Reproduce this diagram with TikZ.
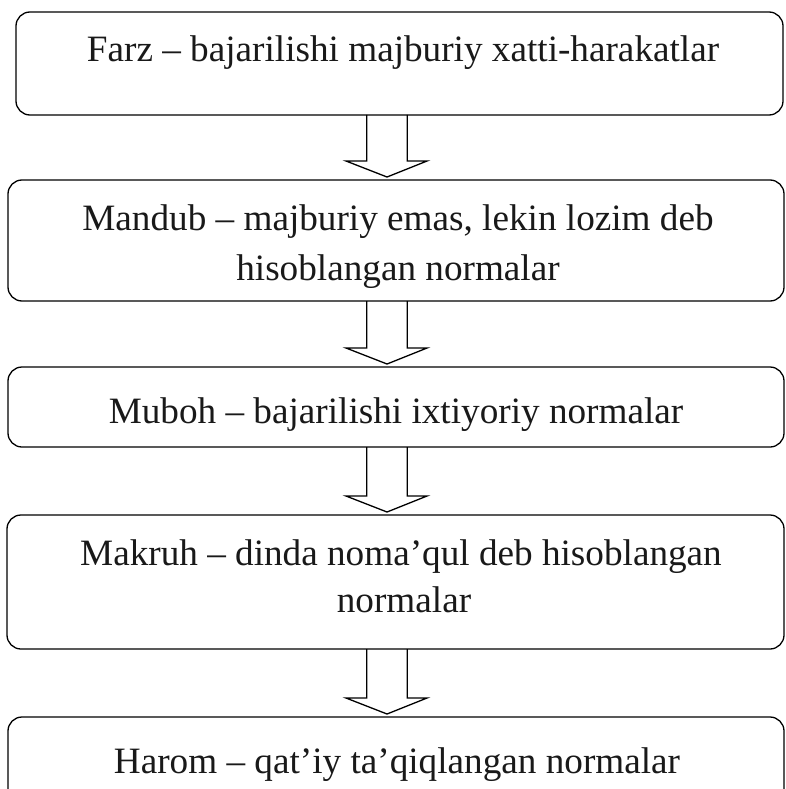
\documentclass[tikz,border=0pt]{standalone}
\usepackage{fontspec}
\setmainfont{Liberation Serif}
\usetikzlibrary{calc}
\tikzset{
  box/.style={draw, line width=1.3pt, rounded corners=14pt, inner sep=0pt, outer sep=0pt},
  label/.style={anchor=base, inner sep=0pt, font=\fontsize{37.2}{41}\selectfont, text=black!90},
  arrowline/.style={draw, line width=1.3pt, line join=miter}
}
\newcommand\blockarrow[2]{%
  \draw[arrowline] ($(#1.south -| ax)+(-20.3,0)$) -- ($(#2.north -| ax)+(-20.3,19)$)
    -- ($(#2.north -| ax)+(-41,19)$) -- ($(#2.north -| ax)+(0,3)$)
    -- ($(#2.north -| ax)+(40,19)$) -- ($(#2.north -| ax)+(20.3,19)$)
    -- ($(#1.south -| ax)+(20.3,0)$);}
\begin{document}
\begin{tikzpicture}[x=1pt,y=1pt]
\useasboundingbox (0,0) rectangle (785,-789);
\clip (0,0) rectangle (785,-789);
\fill[white] (0,0) rectangle (785,-789);
\coordinate (ax) at (387,0);
\node[box, minimum width=767pt, minimum height=103pt] (b1) at (399.5,-63.5) {};
\node[box, minimum width=776pt, minimum height=121pt] (b2) at (396,-240.5) {};
\node[box, minimum width=776pt, minimum height=80pt] (b3) at (396,-407) {};
\node[box, minimum width=777pt, minimum height=134pt] (b4) at (395.5,-582) {};
\node[box, minimum width=776pt, minimum height=120pt] (b5) at (396,-777) {};
\node[label] (t1) at (403,-62) {Farz – bajarilishi majburiy xatti-harakatlar};
\node[label] (t2a) at (398,-230) {Mandub – majburiy emas, lekin lozim deb};
\node[label] (t2b) at (398,-280) {hisoblangan normalar};
\node[label] (t3) at (396,-423) {Muboh – bajarilishi ixtiyoriy normalar};
\node[label] (t4a) at (401,-565) {Makruh – dinda noma’qul deb hisoblangan};
\node[label] (t4b) at (404,-612) {normalar};
\node[label] (t5) at (397,-773) {Harom – qat’iy ta’qiqlangan normalar};
\blockarrow{b1}{b2}
\blockarrow{b2}{b3}
\blockarrow{b3}{b4}
\blockarrow{b4}{b5}
\end{tikzpicture}
\end{document}
